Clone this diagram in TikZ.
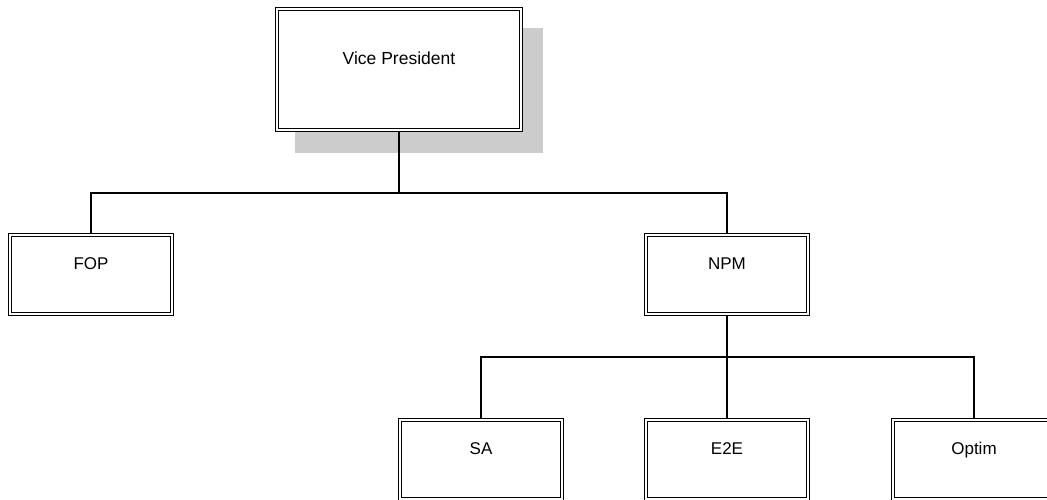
\documentclass[tikz,border=0pt]{standalone}
\usepackage{fontspec}
\setmainfont{Liberation Sans}
\usetikzlibrary{backgrounds}
\definecolor{shadowgray}{HTML}{CCCCCC}
\tikzset{
  orgbox/.style={draw=black, fill=white, double=white, line width=1.1pt, double distance=2pt,
    outer sep=2.1pt, inner sep=0pt, font=\fontsize{17}{20}\selectfont,
    text height=12.3pt, text depth=22.7pt,
    minimum width=161.8pt, minimum height=78.8pt},
  topbox/.style={orgbox, minimum width=243.8pt, minimum height=120.8pt, font=\fontsize{17.5}{20}\selectfont},
  conn/.style={draw=black, line width=1.2pt}
}
\begin{document}
\begin{tikzpicture}[x=1pt,y=-1pt]
\path[use as bounding box, clip] (0,0) rectangle (1047,499);
\node[topbox] (VP) at (399,69.5) {Vice President};
\node[orgbox] (FOP) at (91,274.5) {FOP};
\node[orgbox] (NPM) at (727,274.5) {NPM};
\node[orgbox] (SA) at (481,459.5) {SA};
\node[orgbox] (E2E) at (727,459.5) {E2E};
\node[orgbox] (Optim) at (974,459.5) {Optim};
\coordinate (busA) at (399,193);
\coordinate (busB) at (727,357);
\begin{scope}[on background layer]
\fill[shadowgray] ([shift={(20,21)}]VP.north west) rectangle ([shift={(20,21)}]VP.south east);
\draw[conn] (VP.south) -- (busA);
\draw[conn] (FOP.north) |- (busA) -| (NPM.north);
\draw[conn] (NPM.south) -- (busB);
\draw[conn] (SA.north) |- (busB) -| (Optim.north);
\draw[conn] (busB) -- (E2E.north);
\end{scope}
\end{tikzpicture}
\end{document}
